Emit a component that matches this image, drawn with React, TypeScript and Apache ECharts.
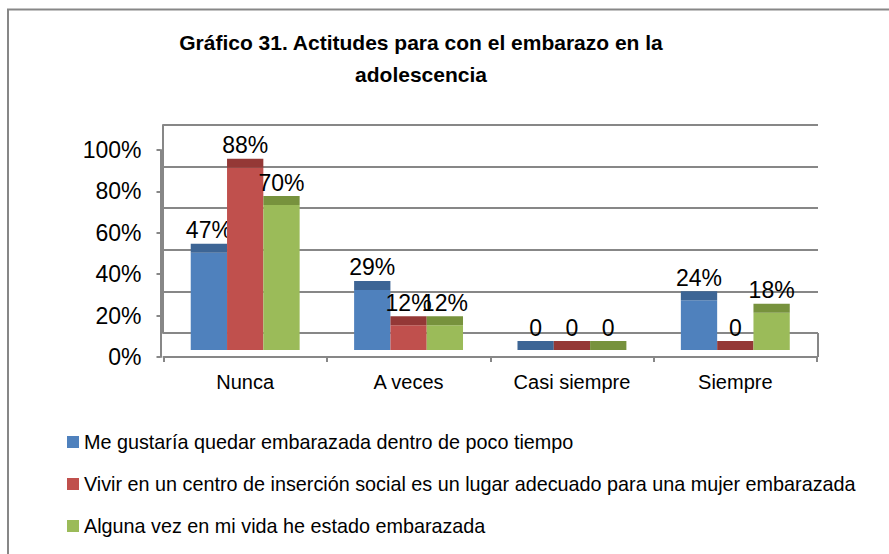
import React, { useEffect, useRef } from "react";
import * as echarts from "echarts";

const categories = ["Nunca", "A veces", "Casi siempre", "Siempre"];
const seriesNames = [
  "Me gustaría quedar embarazada dentro de poco tiempo",
  "Vivir en un centro de inserción social es un lugar adecuado para una mujer embarazada",
  "Alguna vez en mi vida he estado embarazada",
];
const meGustaria = [47, 29, 0, 24];
const vivirCentro = [88, 12, 0, 0];
const algunaVez = [70, 12, 0, 18];
const seriesValues = [meGustaria, vivirCentro, algunaVez];
const frontColors = ["#4F81BD", "#C0504D", "#9BBB59"];
const capColors = ["#3D6595", "#943836", "#77923D"];

const FONT = "'Liberation Sans', Arial, sans-serif";

export default function App() {
  const ref = useRef<HTMLDivElement>(null);
  useEffect(() => {
    if (!ref.current) return;
    const chart = echarts.init(ref.current, undefined, { renderer: "svg" });
    const series: any[] = seriesValues.map((vals, s) => ({
      type: "custom",
      name: seriesNames[s],
      xAxisIndex: 0,
      yAxisIndex: 0,
      itemStyle: { color: frontColors[s] },
      encode: { x: 0, y: 1 },
      data: vals.map((v, i) => [i, v]),
      renderItem: (params: any, api: any) => {
        const ci = api.value(0);
        const v = api.value(1);
        const base = api.coord([ci, 0]);
        const top = api.coord([ci, v]);
        const band = api.size([1, 0])[0];
        const bw = band * 0.2222;
        const cx = base[0] + (s - 1) * bw;
        const depth = 7;
        const cap = 9;
        const yFrontTop = top[1] - depth;
        const yBottom = base[1] - depth;
        const label = v === 0 ? "0" : v + "%";
        return {
          type: "group",
          children: [
            {
              type: "rect",
              shape: { x: cx - bw / 2, y: yFrontTop, width: bw, height: yBottom - yFrontTop },
              style: { fill: frontColors[s] },
            },
            {
              type: "rect",
              shape: { x: cx - bw / 2, y: yFrontTop - cap, width: bw, height: cap },
              style: { fill: capColors[s] },
            },
            {
              type: "text",
              x: cx,
              y: yFrontTop - cap - 2,
              style: {
                text: label,
                fill: "#000",
                font: "23px " + FONT,
                align: "center",
                verticalAlign: "bottom",
              },
            },
          ],
        };
      },
    }));

    chart.setOption({
      animation: false,
      backgroundColor: "#fff",
      title: {
        text: "Gráfico 31. Actitudes para con el embarazo en la\nadolescencia",
        left: 416,
        top: 21,
        textAlign: "center",
        textStyle: { fontFamily: FONT, fontSize: 21, fontWeight: "bold", lineHeight: 32, color: "#000" },
      },
      legend: {
        orient: "vertical",
        left: 67,
        top: 432,
        padding: 0,
        itemGap: 22,
        itemWidth: 12,
        itemHeight: 12,
        icon: "rect",
        data: seriesNames,
        textStyle: { fontFamily: FONT, fontSize: 19.8, lineHeight: 20, color: "#000" },
      },
      grid: [
        { left: 163.5, right: 72, top: 150, bottom: 197 },
        { left: 163, right: 71, top: 125, bottom: 221 },
      ],
      xAxis: [
        {
          type: "category",
          gridIndex: 0,
          data: categories,
          axisLine: { lineStyle: { color: "#878787", width: 2 } },
          axisTick: { show: true, length: 5, lineStyle: { color: "#878787", width: 2 } },
          axisLabel: { color: "#000", fontFamily: FONT, fontSize: 20, margin: 15, interval: 0 },
        },
        { type: "category", gridIndex: 1, data: categories, show: false },
      ],
      yAxis: [
        {
          type: "value",
          gridIndex: 0,
          min: 0,
          max: 100,
          interval: 20,
          offset: 3,
          axisLine: { show: true, lineStyle: { color: "#878787", width: 2 } },
          axisTick: { show: true, length: 4, lineStyle: { color: "#878787", width: 2 } },
          splitLine: { show: false },
          axisLabel: { color: "#000", fontFamily: FONT, fontSize: 23, margin: 19, formatter: "{value}%" },
        },
        {
          type: "value",
          gridIndex: 1,
          min: 0,
          max: 100,
          interval: 20,
          axisLine: { show: true, lineStyle: { color: "#878787", width: 2 } },
          axisTick: { show: false },
          axisLabel: { show: false },
          splitLine: { show: true, lineStyle: { color: "#878787", width: 2 } },
        },
      ],
      graphic: [
        {
          type: "rect",
          shape: { x: 8, y: 9.5, width: 900, height: 600 },
          style: { fill: "none", stroke: "#878787", lineWidth: 2 },
          silent: true,
        },
        {
          type: "line",
          shape: { x1: 818, y1: 333, x2: 818, y2: 357 },
          style: { stroke: "#878787", lineWidth: 2 },
          silent: true,
        },
      ],
      series,
    });
    return () => chart.dispose();
  }, []);
  return (
    <div
      ref={ref}
      style={{ position: "fixed", left: 0, top: 0, width: 889, height: 554 }}
    />
  );
}
